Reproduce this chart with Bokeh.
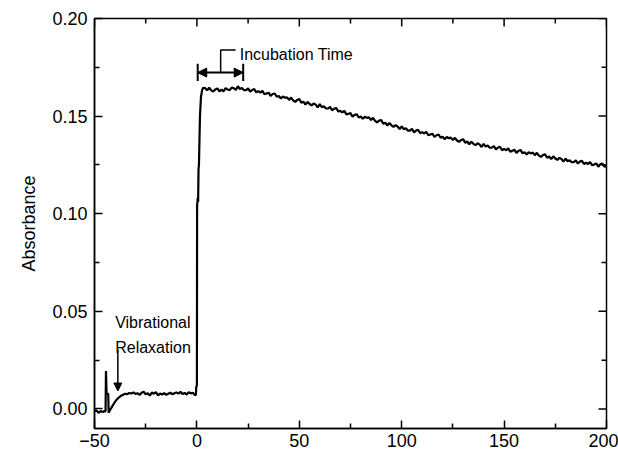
from bokeh.plotting import figure
from bokeh.models import (Range1d, LinearAxis, FixedTicker, NumeralTickFormatter,
                          Arrow, NormalHead, Label)
from bokeh.embed import file_html
from bokeh.resources import INLINE

# ---------------- data ----------------
# before the excitation pulse (vibrational relaxation region)
t_pre = [-50, -49, -48, -47, -46, -45.5, -44.6, -44.4, -44.1, -43.3, -43.1,
         -42, -41, -40, -39, -38, -37, -36, -35,
         -34, -33, -32, -31, -30, -29, -28, -27, -26, -25,
         -24, -23, -22, -21, -20, -19, -18, -17, -16, -15,
         -14, -13, -12, -11, -10, -9, -8, -7, -6, -5,
         -4, -3, -2, -1, -0.5]
a_pre = [-0.0012, -0.0008, -0.0020, -0.0010, -0.0016, -0.0012, -0.0012, 0.0195, 0.0078, 0.0078, -0.0019,
         0.0002, 0.0020, 0.0036, 0.0050, 0.0060, 0.0068, 0.0073, 0.0078,
         0.0076, 0.0082, 0.0079, 0.0085, 0.0077, 0.0081, 0.0072, 0.0083, 0.0088, 0.0075,
         0.0080, 0.0069, 0.0084, 0.0078, 0.0086, 0.0070, 0.0079, 0.0074, 0.0081, 0.0072,
         0.0078, 0.0083, 0.0076, 0.0080, 0.0085, 0.0079, 0.0088, 0.0076, 0.0082, 0.0074,
         0.0086, 0.0080, 0.0083, 0.0072, 0.0070]

# the jump at time zero
t_jump = [-0.3, 0.0, 0.1, 0.4, 0.6, 0.8, 1.0, 1.5, 2.0, 2.5, 3.0]
a_jump = [0.0115, 0.0120, 0.1040, 0.1080, 0.1060, 0.1230, 0.1250, 0.1500, 0.1600, 0.1630, 0.1645]

# plateau and slow decay
t_main = [4, 5, 6, 7, 8, 9, 10, 11, 12, 13,
          14, 15, 16, 17, 18, 19, 20, 21, 22, 23,
          24, 25, 26, 27, 28, 29, 30, 31, 32, 33,
          34, 35, 36, 37, 38, 39, 40, 41, 42, 43,
          44, 45, 46, 47, 48, 49, 50, 51, 52, 53,
          54, 55, 56, 57, 58, 59, 60, 61, 62, 63,
          64, 65, 66, 67, 68, 69, 70, 71, 72, 73,
          74, 75, 76, 77, 78, 79, 80, 81, 82, 83,
          84, 85, 86, 87, 88, 89, 90, 91, 92, 93,
          94, 95, 96, 97, 98, 99, 100, 101, 102, 103,
          104, 105, 106, 107, 108, 109, 110, 111, 112, 113,
          114, 115, 116, 117, 118, 119, 120, 121, 122, 123,
          124, 125, 126, 127, 128, 129, 130, 131, 132, 133,
          134, 135, 136, 137, 138, 139, 140, 141, 142, 143,
          144, 145, 146, 147, 148, 149, 150, 151, 152, 153,
          154, 155, 156, 157, 158, 159, 160, 161, 162, 163,
          164, 165, 166, 167, 168, 169, 170, 171, 172, 173,
          174, 175, 176, 177, 178, 179, 180, 181, 182, 183,
          184, 185, 186, 187, 188, 189, 190, 191, 192, 193,
          194, 195, 196, 197, 198, 199, 200]
a_main = [0.1644, 0.1632, 0.1645, 0.1632, 0.1626, 0.1637, 0.1642, 0.1627, 0.1636, 0.1627,
          0.1644, 0.1636, 0.1633, 0.1646, 0.1643, 0.1634, 0.1653, 0.1639, 0.1644, 0.1633,
          0.1633, 0.1642, 0.1625, 0.1634, 0.1639, 0.1622, 0.1628, 0.1620, 0.1629, 0.1612,
          0.1616, 0.1620, 0.1603, 0.1613, 0.1616, 0.1599, 0.1603, 0.1590, 0.1601, 0.1594,
          0.1596, 0.1583, 0.1595, 0.1581, 0.1573, 0.1583, 0.1587, 0.1568, 0.1574, 0.1559,
          0.1573, 0.1562, 0.1555, 0.1565, 0.1559, 0.1545, 0.1561, 0.1546, 0.1551, 0.1539,
          0.1539, 0.1547, 0.1530, 0.1538, 0.1542, 0.1524, 0.1527, 0.1519, 0.1527, 0.1509,
          0.1512, 0.1516, 0.1497, 0.1506, 0.1510, 0.1493, 0.1498, 0.1486, 0.1497, 0.1491,
          0.1494, 0.1480, 0.1491, 0.1476, 0.1468, 0.1477, 0.1480, 0.1461, 0.1466, 0.1452,
          0.1465, 0.1453, 0.1445, 0.1454, 0.1447, 0.1433, 0.1448, 0.1433, 0.1438, 0.1426,
          0.1426, 0.1435, 0.1417, 0.1426, 0.1430, 0.1412, 0.1418, 0.1411, 0.1419, 0.1402,
          0.1406, 0.1410, 0.1393, 0.1402, 0.1406, 0.1389, 0.1394, 0.1382, 0.1393, 0.1387,
          0.1390, 0.1377, 0.1389, 0.1375, 0.1368, 0.1378, 0.1382, 0.1364, 0.1370, 0.1355,
          0.1369, 0.1358, 0.1351, 0.1361, 0.1355, 0.1342, 0.1358, 0.1344, 0.1349, 0.1338,
          0.1338, 0.1347, 0.1330, 0.1339, 0.1343, 0.1325, 0.1332, 0.1325, 0.1335, 0.1318,
          0.1322, 0.1328, 0.1311, 0.1322, 0.1327, 0.1310, 0.1315, 0.1304, 0.1315, 0.1309,
          0.1313, 0.1300, 0.1312, 0.1298, 0.1291, 0.1301, 0.1305, 0.1287, 0.1293, 0.1280,
          0.1294, 0.1283, 0.1276, 0.1286, 0.1280, 0.1267, 0.1283, 0.1269, 0.1274, 0.1264,
          0.1264, 0.1274, 0.1257, 0.1267, 0.1271, 0.1255, 0.1261, 0.1255, 0.1264, 0.1248,
          0.1252, 0.1258, 0.1241, 0.1253, 0.1257, 0.1241, 0.1246]

time = t_pre + t_jump + t_main
absorbance = a_pre + a_jump + a_main

x_major = [-50, 0, 50, 100, 150, 200]
x_minor = [-25, 25, 75, 125, 175]
y_major = [0.00, 0.05, 0.10, 0.15, 0.20]
y_minor = [0.025, 0.075, 0.125, 0.175]

y_title = "Absorbance"
label_vib = ["Vibrational", "Relaxation"]
label_inc = "Incubation Time"

FONT = "Liberation Sans"

# ---------------- figure ----------------
W, H = 618, 453
B_LEFT, B_RIGHT, B_TOP, B_BOTTOM = 94, 12, 18, 25
X0, X1, Y0, Y1 = -50, 200, -0.01, 0.20

p = figure(width=W, height=H,
           x_range=Range1d(X0, X1), y_range=Range1d(Y0, Y1),
           output_backend="svg", toolbar_location=None,
           x_axis_location=None, y_axis_location=None,
           min_border_left=B_LEFT, min_border_right=B_RIGHT,
           min_border_top=B_TOP, min_border_bottom=B_BOTTOM)
p.grid.visible = False
p.outline_line_color = "black"
p.outline_line_width = 1.5
p.background_fill_color = "white"
p.border_fill_color = "white"

MAJ_IN, MIN_IN = 8, 5

xt = FixedTicker(ticks=x_major, minor_ticks=x_minor)
yt = FixedTicker(ticks=y_major, minor_ticks=y_minor)


def style_axis(ax):
    ax.axis_line_color = "black"
    ax.axis_line_width = 1.5
    ax.major_tick_line_color = "black"
    ax.minor_tick_line_color = "black"
    ax.major_tick_line_width = 1.5
    ax.minor_tick_line_width = 1.5
    ax.major_tick_in = MAJ_IN
    ax.major_tick_out = 0
    ax.minor_tick_in = MIN_IN
    ax.minor_tick_out = 0
    ax.major_label_text_font = FONT
    ax.major_label_text_color = "black"
    ax.major_label_text_font_size = "18px"


bottom = LinearAxis(ticker=xt)
style_axis(bottom)
bottom.major_label_standoff = 5
p.add_layout(bottom, "below")

left = LinearAxis(ticker=yt, formatter=NumeralTickFormatter(format="0.00"),
                  axis_label=y_title)
style_axis(left)
left.major_label_standoff = 7
left.axis_label_text_font = FONT
left.axis_label_text_font_size = "18px"
left.axis_label_text_font_style = "normal"
left.axis_label_text_color = "black"
left.axis_label_standoff = 10
p.add_layout(left, "left")

# mirrored inward ticks on top and right edges of the frame (no labels)
frame_w = W - B_LEFT - B_RIGHT
frame_h = H - B_TOP - B_BOTTOM
ux = (X1 - X0) / frame_w   # data units per pixel, x
uy = (Y1 - Y0) / frame_h   # data units per pixel, y
p.segment(x0=x_major, y0=[Y1] * len(x_major), x1=x_major,
          y1=[Y1 - MAJ_IN * uy] * len(x_major), line_color="black", line_width=1.5)
p.segment(x0=x_minor, y0=[Y1] * len(x_minor), x1=x_minor,
          y1=[Y1 - MIN_IN * uy] * len(x_minor), line_color="black", line_width=1.5)
p.segment(x0=[X1] * len(y_major), y0=y_major, x1=[X1 - MAJ_IN * ux] * len(y_major),
          y1=y_major, line_color="black", line_width=1.5)
p.segment(x0=[X1] * len(y_minor), y0=y_minor, x1=[X1 - MIN_IN * ux] * len(y_minor),
          y1=y_minor, line_color="black", line_width=1.5)

# ---------------- trace ----------------
p.line(time, absorbance, line_color="black", line_width=2.2)

# ---------------- annotations ----------------
# vibrational relaxation
vib_x = -39.9
p.add_layout(Label(x=vib_x, y=0.0443, text=label_vib[0], text_font=FONT,
                   text_font_size="16px", text_color="black",
                   text_baseline="alphabetic"))
p.add_layout(Label(x=vib_x, y=0.0314, text=label_vib[1], text_font=FONT,
                   text_font_size="16px", text_color="black",
                   text_baseline="alphabetic"))
p.add_layout(Arrow(end=NormalHead(size=8, fill_color="black", line_color="black"),
                   x_start=-38.6, y_start=0.0305, x_end=-38.6, y_end=0.0092,
                   line_color="black", line_width=1.5))

# incubation time bracket
inc_x0, inc_x1, inc_y = 0.4, 22.6, 0.1723
p.add_layout(Arrow(start=NormalHead(size=9, fill_color="black", line_color="black"),
                   end=NormalHead(size=9, fill_color="black", line_color="black"),
                   x_start=inc_x0, y_start=inc_y, x_end=inc_x1, y_end=inc_y,
                   line_color="black", line_width=2))
p.segment(x0=[inc_x0, inc_x1], y0=[0.1768, 0.1768], x1=[inc_x0, inc_x1], y1=[0.1680, 0.1680],
          line_color="black", line_width=2)
p.line([11.6, 11.6, 18.9], [inc_y, 0.1839, 0.1839], line_color="black", line_width=1.5)
p.add_layout(Label(x=20.9, y=0.1815, text=label_inc, text_font=FONT,
                   text_font_size="16px", text_color="black",
                   text_baseline="alphabetic"))

open("out.html", "w").write(file_html(p, INLINE))
